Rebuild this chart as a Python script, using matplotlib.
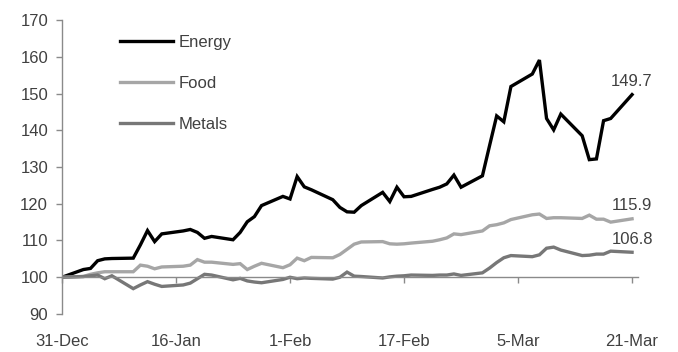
import matplotlib
matplotlib.use("Agg")
import matplotlib.pyplot as plt
import matplotlib.dates as mdates
import numpy as np
import pandas as pd

plt.rcParams['font.family'] = ['Liberation Sans', 'DejaVu Sans']

# business days (offsets from 31-Dec-2021)
day_offsets = [0,
               3, 4, 5, 6, 7,
               10, 11, 12, 13, 14,
               17, 18, 19, 20, 21,
               24, 25, 26, 27, 28,
               31, 32, 33, 34, 35,
               38, 39, 40, 41, 42,
               45, 46, 47, 48, 49,
               52, 53, 54, 55, 56,
               59, 60, 61, 62, 63,
               66, 67, 68, 69, 70,
               73, 74, 75, 76, 77,
               80]
dates = pd.Timestamp('2021-12-31') + pd.to_timedelta(day_offsets, unit='D')

energy = [100.0,
          102.1, 102.4, 104.5, 105.0, 105.1,
          105.2, 108.8, 112.7, 109.7, 111.8,
          112.6, 113.0, 112.2, 110.6, 111.1,
          110.2, 112.2, 115.1, 116.5, 119.5,
          122.0, 121.3, 127.4, 124.6, 123.8,
          121.1, 119.0, 117.8, 117.7, 119.5,
          123.1, 120.6, 124.5, 121.9, 122.0,
          123.9, 124.5, 125.4, 127.8, 124.5,
          127.6, 135.8, 143.9, 142.3, 151.9,
          155.3, 159.1, 143.2, 140.1, 144.4,
          138.5, 132.0, 132.2, 142.6, 143.2,
          149.7]
food = [100.0,
        100.2, 100.8, 101.2, 101.5, 101.5,
        101.5, 103.3, 103.0, 102.3, 102.8,
        103.0, 103.3, 104.8, 104.1, 104.1,
        103.5, 103.7, 102.1, 103.0, 103.8,
        102.6, 103.4, 105.2, 104.5, 105.4,
        105.3, 106.2, 107.6, 109.0, 109.6,
        109.7, 109.1, 109.0, 109.1, 109.3,
        109.8, 110.2, 110.7, 111.8, 111.6,
        112.6, 114.0, 114.3, 114.8, 115.7,
        117.0, 117.2, 116.0, 116.2, 116.2,
        116.0, 116.9, 115.8, 115.8, 115.0,
        115.9]
metals = [100.0,
          100.2, 100.4, 100.6, 99.6, 100.4,
          96.9, 97.9, 98.8, 98.1, 97.5,
          97.9, 98.4, 99.6, 100.8, 100.6,
          99.3, 99.7, 99.0, 98.7, 98.5,
          99.4, 100.0, 99.6, 99.8, 99.7,
          99.5, 100.0, 101.4, 100.3, 100.2,
          99.8, 100.1, 100.3, 100.4, 100.6,
          100.5, 100.6, 100.6, 100.9, 100.5,
          101.2, 102.5, 104.0, 105.3, 105.9,
          105.6, 106.1, 107.9, 108.2, 107.4,
          105.9, 106.0, 106.3, 106.3, 107.1,
          106.8]

series_names = ['Energy', 'Food', 'Metals']
series_colors = ['#000000', '#a6a6a6', '#777777']
tick_dates = pd.to_datetime(['2021-12-31', '2022-01-16', '2022-02-01',
                             '2022-02-17', '2022-03-05', '2022-03-21'])
tick_labels = ['31-Dec', '16-Jan', '1-Feb', '17-Feb', '5-Mar', '21-Mar']
y_ticks = [90, 100, 110, 120, 130, 140, 150, 160, 170]

text_color = '#404040'
spine_color = '#8a8a8a'

fig = plt.figure(figsize=(6.78, 3.52), dpi=100)
ax = fig.add_axes([62/678, 38/352, (638-62)/678, (332-38)/352])

for name, vals, col in zip(series_names, [energy, food, metals], series_colors):
    ax.plot(dates, vals, color=col, lw=2.4, label=name, solid_joinstyle='miter')
    ax.annotate(f'{vals[-1]:.1f}', xy=(dates[-1], vals[-1]), xytext=(0, 4),
                textcoords='offset points', ha='center', va='bottom',
                fontsize=12, color=text_color)

ax.set_ylim(90, 170)
ax.set_xlim(pd.Timestamp('2021-12-31'), pd.Timestamp('2022-03-21') + pd.Timedelta(hours=20))
ax.set_yticks(y_ticks)
ax.set_xticks(tick_dates)
ax.set_xticklabels(tick_labels)

for s in ['top', 'right']:
    ax.spines[s].set_visible(False)
ax.spines['bottom'].set_position(('data', 100))
for s in ['left', 'bottom']:
    ax.spines[s].set_color(spine_color)
    ax.spines[s].set_linewidth(1.0)

ax.tick_params(axis='both', colors=spine_color, labelcolor=text_color,
               labelsize=12, direction='out', length=4, width=1.0)
ax.tick_params(axis='x', pad=37)
ax.tick_params(axis='y', pad=6)

leg = ax.legend(loc='upper left', bbox_to_anchor=(120/678, 1 - 35/352),
                bbox_transform=fig.transFigure, frameon=False, fontsize=12,
                handlelength=3.2, handletextpad=0.3, labelspacing=1.55,
                borderpad=0, borderaxespad=0)
for t in leg.get_texts():
    t.set_color(text_color)

fig.savefig('out.png', dpi=100)
